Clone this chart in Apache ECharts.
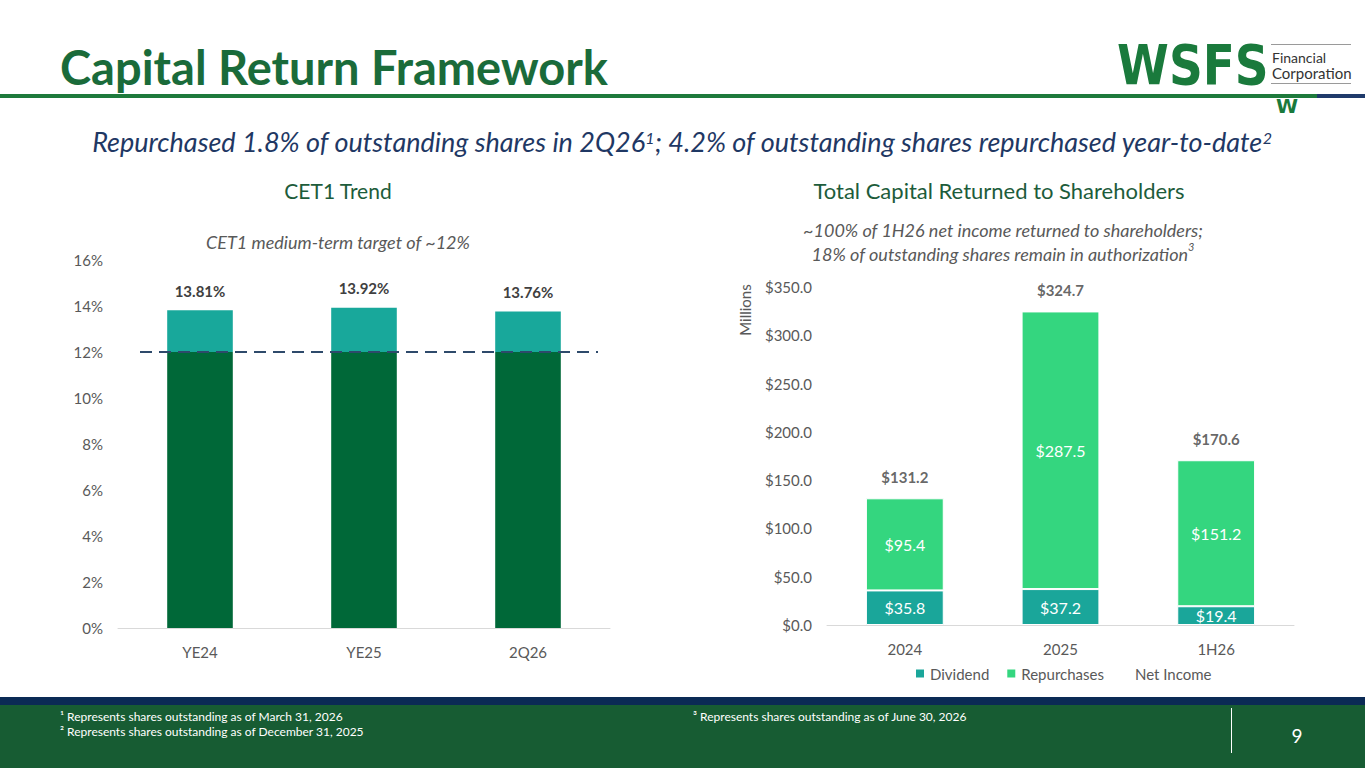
<!DOCTYPE html>
<html>
<head>
<meta charset="utf-8">
<title>Capital Return Framework</title>
<script src="https://cdn.jsdelivr.net/npm/echarts@6/dist/echarts.min.js"></script>
<style>
  html, body { margin: 0; padding: 0; background: #fff; }
  #main { width: 1365px; height: 768px; }
</style>
</head>
<body>
<div id="main"></div>
<script>
// CET1 trend
const cetCategories = ['YE24', 'YE25', '2Q26'];
const cetValues = [13.81, 13.92, 13.76];
const cetTarget = 12;
const cetTicks = [0, 2, 4, 6, 8, 10, 12, 14, 16];

// capital returned ($ millions)
const capCategories = ['2024', '2025', '1H26'];
const dividendValues = [35.8, 37.2, 19.4];
const repurchaseValues = [95.4, 287.5, 151.2];
const totalValues = [131.2, 324.7, 170.6];

const FONT = 'Lato, "Open Sans", sans-serif';
const GREEN = '#1a6b3a';
const NAVY = '#1f3864';
const GREY = '#595959';

const chart = echarts.init(document.getElementById('main'), null, { renderer: 'svg' });

const axisLabel = { color: GREY, fontSize: 15, fontFamily: FONT };

chart.setOption({
  backgroundColor: '#fff',
  animation: false,
  textStyle: { fontFamily: FONT },
  grid: [
    { left: 118, right: 755, top: 260, bottom: 140 },
    { left: 827, right: 71, top: 287, bottom: 143 },
  ],
  legend: {
    left: 909, top: 661,
    itemWidth: 10, itemHeight: 10, itemGap: 16,
    textStyle: { color: GREY, fontSize: 15, fontFamily: FONT },
    data: [
      { name: 'Dividend', icon: 'rect' },
      { name: 'Repurchases', icon: 'rect' },
      { name: 'Net Income', icon: 'none' },
    ],
  },
  xAxis: [
    {
      gridIndex: 0, type: 'category', data: cetCategories,
      axisLine: { lineStyle: { color: '#d9d9d9' } }, axisTick: { show: false },
      axisLabel: { ...axisLabel, margin: 16 },
    },
    {
      gridIndex: 1, type: 'category', data: capCategories,
      axisLine: { lineStyle: { color: '#d9d9d9' } }, axisTick: { show: false },
      axisLabel: { ...axisLabel, margin: 16 },
    },
  ],
  yAxis: [
    {
      gridIndex: 0, type: 'value', min: cetTicks[0], max: cetTicks.at(-1), interval: 2,
      splitLine: { show: false }, axisLine: { show: false },
      axisLabel: { ...axisLabel, margin: 15, formatter: '{value}%' },
    },
    {
      gridIndex: 1, type: 'value', min: 0, max: 350, interval: 50,
      splitLine: { show: false }, axisLine: { show: false },
      axisLabel: { ...axisLabel, margin: 15, formatter: (v) => '$' + v.toFixed(1) },
    },
  ],
  series: [
    {
      name: 'base', type: 'bar', xAxisIndex: 0, yAxisIndex: 0, stack: 'cet',
      barWidth: '40%',
      data: cetValues.map((v) => Math.min(v, cetTarget)),
      itemStyle: { color: '#006838' },
    },
    {
      name: 'excess', type: 'bar', xAxisIndex: 0, yAxisIndex: 0, stack: 'cet',
      data: cetValues.map((v) => +(v - cetTarget).toFixed(2)),
      itemStyle: { color: '#18a89b' },
      label: {
        show: true, position: 'top', distance: 12,
        color: '#404040', fontSize: 15, fontWeight: 'bold', fontFamily: FONT,
        formatter: (p) => cetValues[p.dataIndex].toFixed(2) + '%',
      },
    },
    {
      name: 'Dividend', type: 'bar', xAxisIndex: 1, yAxisIndex: 1, stack: 'cap',
      barWidth: '50%',
      data: dividendValues,
      itemStyle: { color: '#1aa69a', borderColor: '#fff', borderWidth: 1 },
      label: {
        show: true, position: 'inside', color: '#fff', fontSize: 16, fontFamily: FONT,
        formatter: (p) => '$' + p.value.toFixed(1),
      },
    },
    {
      name: 'Repurchases', type: 'bar', xAxisIndex: 1, yAxisIndex: 1, stack: 'cap',
      data: repurchaseValues,
      itemStyle: { color: '#34d67f', borderColor: '#fff', borderWidth: 1 },
      label: {
        show: true, position: 'inside', color: '#fff', fontSize: 16, fontFamily: FONT,
        formatter: (p) => '$' + p.value.toFixed(1),
      },
    },
    {
      name: 'Net Income', type: 'scatter', xAxisIndex: 1, yAxisIndex: 1,
      data: totalValues, symbolSize: 1, itemStyle: { color: 'rgba(0,0,0,0)' },
      label: {
        show: true, position: 'top', distance: 13,
        color: '#404040', fontSize: 15, fontWeight: 'bold', fontFamily: FONT,
        formatter: (p) => '$' + p.value.toFixed(1),
      },
    },
  ],
  graphic: [
    // header
    { type: 'text', x: 60, y: 43, style: { text: 'Capital Return Framework', fill: GREEN, font: 'bold 47px ' + FONT } },
    { type: 'rect', shape: { x: 0, y: 94, width: 1317, height: 4 }, style: { fill: '#1e7a3c' } },
    { type: 'rect', shape: { x: 1317, y: 94, width: 48, height: 4 }, style: { fill: '#1f3a6b' } },
    // logo
    { type: 'text', x: 1117, y: 37, scaleX: 0.84, style: { text: 'WSFS', fill: '#1a7a3c', font: 'bold 56px "DejaVu Sans", sans-serif' } },
    { type: 'rect', shape: { x: 1271, y: 44, width: 80, height: 1 }, style: { fill: '#9a9a9a' } },
    { type: 'rect', shape: { x: 1271, y: 83, width: 80, height: 1 }, style: { fill: '#9a9a9a' } },
    { type: 'text', x: 1272, y: 57, style: { text: 'Financial', fill: '#333', font: '14px ' + FONT, verticalAlign: 'middle' } },
    { type: 'text', x: 1272, y: 73, style: { text: 'Corporation', fill: '#333', font: '15px ' + FONT, verticalAlign: 'middle' } },
    { type: 'text', x: 1276, y: 96, style: { text: 'W', fill: '#1a7a3c', font: 'bold 20px "DejaVu Sans", sans-serif' } },
    // subtitle
    {
      type: 'text', x: 682, y: 140,
      style: {
        text: '{m|Repurchased 1.8% of outstanding shares in 2Q26}{s|1}{m|; 4.2% of outstanding shares repurchased year-to-date}{s|2}',
        align: 'center', verticalAlign: 'middle',
        rich: {
          m: { fill: NAVY, font: 'italic 27px ' + FONT, lineHeight: 30, verticalAlign: 'bottom' },
          s: { fill: NAVY, font: 'italic 16px ' + FONT, lineHeight: 30, verticalAlign: 'top', padding: [4, 0, 0, 0] },
        },
      },
    },
    // panel titles
    { type: 'text', x: 338, y: 190, style: { text: 'CET1 Trend', fill: '#1d5c3b', font: '21px ' + FONT, align: 'center', verticalAlign: 'middle' } },
    { type: 'text', x: 999, y: 190, style: { text: 'Total Capital Returned to Shareholders', fill: '#1d5c3b', font: '22px ' + FONT, align: 'center', verticalAlign: 'middle' } },
    { type: 'text', x: 338, y: 242, style: { text: 'CET1 medium-term target of ~12%', fill: GREY, font: 'italic 18px ' + FONT, align: 'center', verticalAlign: 'middle' } },
    {
      type: 'text', x: 1003, y: 239,
      style: {
        text: '{m|~100% of 1H26 net income returned to shareholders;}\n{m|18% of outstanding shares remain in authorization}{s|3}',
        align: 'center', verticalAlign: 'middle',
        rich: {
          m: { fill: GREY, font: 'italic 18px ' + FONT, lineHeight: 24, verticalAlign: 'bottom' },
          s: { fill: GREY, font: 'italic 11px ' + FONT, lineHeight: 24, verticalAlign: 'top', padding: [2, 0, 0, 0] },
        },
      },
    },
    { type: 'text', x: 745, y: 310, rotation: Math.PI / 2, style: { text: 'Millions', fill: GREY, font: '15px ' + FONT, align: 'center', verticalAlign: 'middle' } },
    // footer
    { type: 'rect', shape: { x: 0, y: 697, width: 1365, height: 8 }, style: { fill: '#0b2a55' } },
    { type: 'rect', shape: { x: 0, y: 705, width: 1365, height: 63 }, style: { fill: '#175c33' } },
    { type: 'text', x: 60, y: 716, style: { text: '¹ Represents shares outstanding as of March 31, 2026', fill: '#fff', font: '12px ' + FONT, verticalAlign: 'middle' } },
    { type: 'text', x: 60, y: 731, style: { text: '² Represents shares outstanding as of December 31, 2025', fill: '#fff', font: '12px ' + FONT, verticalAlign: 'middle' } },
    { type: 'text', x: 693, y: 716, style: { text: '³ Represents shares outstanding as of June 30, 2026', fill: '#fff', font: '12px ' + FONT, verticalAlign: 'middle' } },
    { type: 'rect', shape: { x: 1231, y: 708, width: 1, height: 45 }, style: { fill: '#fff' } },
    { type: 'text', x: 1297, y: 735, style: { text: '9', fill: '#fff', font: '19px ' + FONT, align: 'center', verticalAlign: 'middle' } },
  ],
});

// target line spans only part of the plot, as on the slide
const targetY = chart.convertToPixel({ yAxisIndex: 0 }, cetTarget);
chart.setOption({
  series: [{
    name: 'base',
    markLine: {
      silent: true, symbol: 'none', label: { show: false },
      lineStyle: { color: '#2e4a6b', width: 2, type: [12, 7] },
      data: [[{ x: 140, y: targetY }, { x: 598, y: targetY }]],
    },
  }],
});
</script>
</body>
</html>
